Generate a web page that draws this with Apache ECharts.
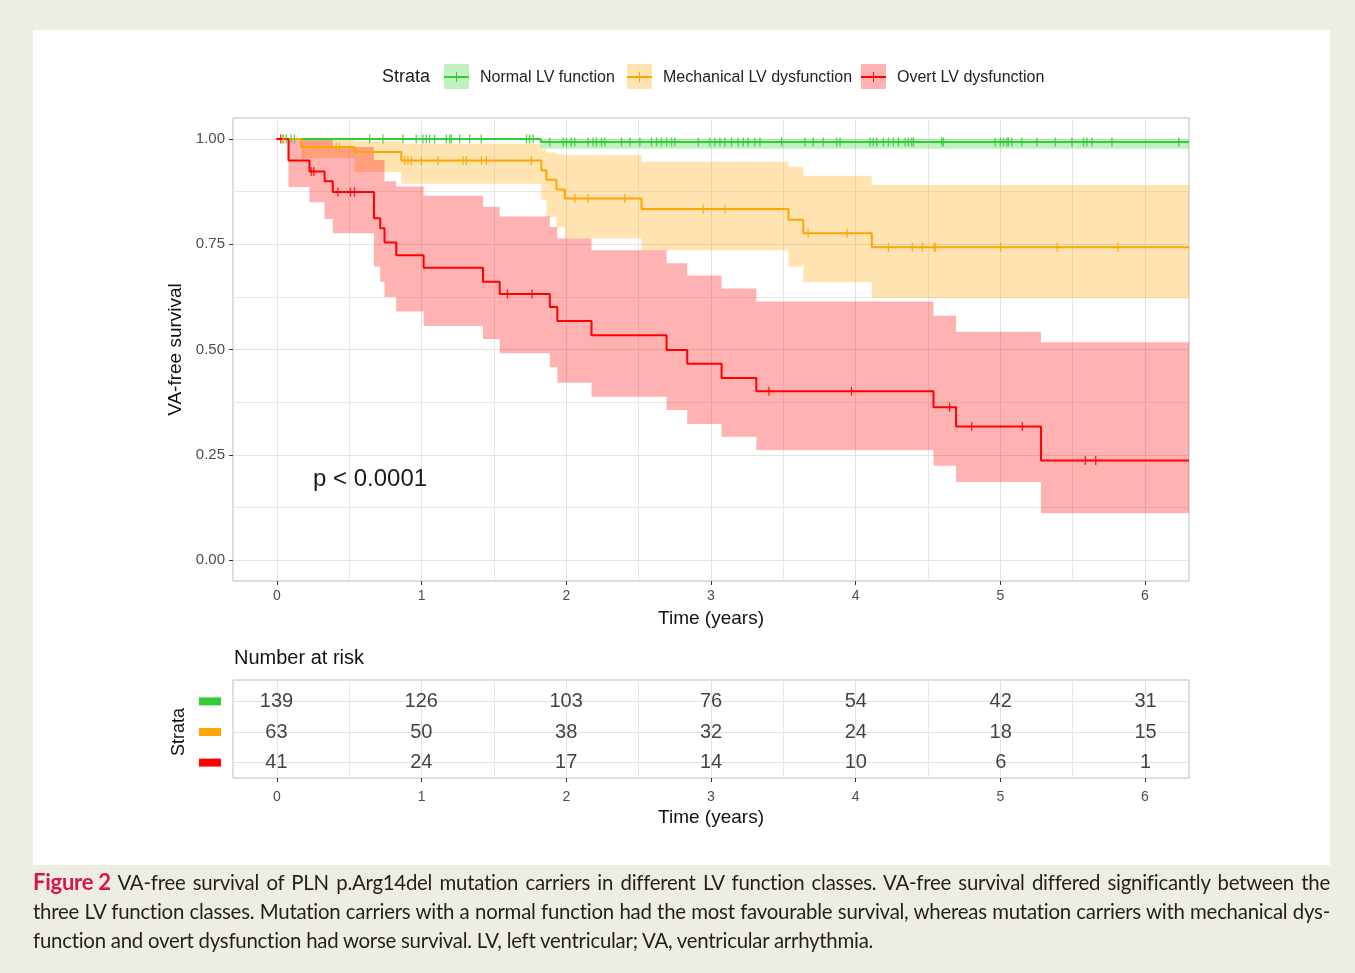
<!DOCTYPE html>
<html><head><meta charset="utf-8">
<script src="https://cdn.jsdelivr.net/npm/echarts@6/dist/echarts.min.js"></script>
<style>
html,body{margin:0;padding:0;background:#EEEDE3;width:1355px;height:973px;overflow:hidden;}
#panel{position:absolute;left:33px;top:30px;width:1297px;height:835px;background:#fff;}
#chart{position:absolute;left:0;top:0;width:1355px;height:973px;}
#caption{position:absolute;left:33px;top:867px;width:1297px;font-family:Lato,"Open Sans",sans-serif;font-size:20.4px;color:#231f20;line-height:29px;letter-spacing:-0.25px;}
#caption div{white-space:nowrap;text-align:justify;text-align-last:justify;}
#caption div.last{text-align-last:left;}
#caption .fig{display:inline-block;color:#D5174F;font-size:22px;font-weight:bold;}
</style></head>
<body>
<div id="panel"></div>
<div id="chart"></div>
<div id="caption">
<div><span class="fig">Figure 2</span> VA-free survival of PLN p.Arg14del mutation carriers in different LV function classes. VA-free survival differed significantly between the</div>
<div>three LV function classes. Mutation carriers with a normal function had the most favourable survival, whereas mutation carriers with mechanical dys-</div>
<div class="last">function and overt dysfunction had worse survival. LV, left ventricular; VA, ventricular arrhythmia.</div>
</div>
<script>
// ---------------- data ----------------
const strataNames = ['Normal LV function', 'Mechanical LV dysfunction', 'Overt LV dysfunction'];
const strataColors = ['#32CD32', '#FFA500', '#FF0000'];
const bandColors = ['rgba(50,205,50,0.3)', 'rgba(255,165,0,0.3)', 'rgba(255,0,0,0.3)'];
const timeTicks = [0, 1, 2, 3, 4, 5, 6];
const survTicks = [0, 0.25, 0.5, 0.75, 1];
const tEnd = 6.3;
const pText = 'p < 0.0001';

// Normal LV function
const normalTimes = [1.825];
const normalSurv  = [0.993];
const normalUpper = [1.000];
const normalLower = [0.977];
const normalCensor = [0.044,0.067,0.101,0.124,0.643,0.735,0.873,0.965,1.011,1.034,1.057,1.092,1.173,1.196,1.207,1.265,1.334,1.414,1.726,1.748,1.772,1.887,1.979,2.002,2.036,2.059,2.152,2.186,2.209,2.244,2.267,2.382,2.440,2.509,2.589,2.624,2.658,2.693,2.728,2.750,2.912,2.992,3.027,3.062,3.096,3.142,3.188,3.223,3.257,3.303,3.338,3.488,3.649,3.706,3.775,3.868,3.891,4.098,4.121,4.144,4.190,4.225,4.259,4.294,4.340,4.363,4.386,4.398,4.593,4.605,4.962,4.997,5.020,5.043,5.054,5.077,5.146,5.250,5.377,5.492,5.572,5.595,5.630,5.768,6.229];

// Mechanical LV dysfunction
const mechTimes = [0.170, 0.539, 0.862, 1.829, 1.864, 1.933, 1.990, 2.520, 3.534, 3.637, 4.110];
const mechSurv  = [0.981, 0.969, 0.949, 0.926, 0.903, 0.880, 0.859, 0.834, 0.808, 0.776, 0.743];
const mechUpper = [1.000, 0.995, 0.988, 0.975, 0.968, 0.964, 0.962, 0.946, 0.934, 0.913, 0.891];
const mechLower = [0.955, 0.922, 0.894, 0.855, 0.815, 0.790, 0.764, 0.736, 0.697, 0.660, 0.622];
const mechCensor = [0.05,0.413,0.435,0.885,0.908,0.931,1.0,1.115,1.288,1.311,1.415,1.449,1.760,2.06,2.15,2.405,2.946,3.096,3.67,3.94,4.225,4.39,4.46,4.54,4.55,5.0,5.39,5.81];

// Overt LV dysfunction
const overtTimes = [0.083,0.228,0.332,0.389,0.673,0.716,0.746,0.827,1.016,1.426,1.541,1.887,1.939,2.175,2.693,2.836,3.073,3.313,4.536,4.692,5.278];
const overtSurv  = [0.949,0.923,0.900,0.874,0.812,0.788,0.754,0.724,0.694,0.661,0.632,0.601,0.568,0.534,0.499,0.466,0.432,0.401,0.363,0.317,0.236];
const overtUpper = [1.000,1.000,1.000,0.981,0.950,0.950,0.900,0.887,0.865,0.839,0.816,0.791,0.764,0.736,0.705,0.676,0.645,0.614,0.580,0.542,0.517];
const overtLower = [0.886,0.850,0.810,0.776,0.697,0.661,0.625,0.590,0.556,0.525,0.491,0.458,0.421,0.388,0.356,0.323,0.293,0.261,0.224,0.185,0.111];
const overtCensor = [0.03,0.24,0.258,0.424,0.511,0.539,1.594,1.765,3.40,3.97,4.648,4.80,5.15,5.584,5.656];

// Number at risk
const riskNormal = [139, 126, 103, 76, 54, 42, 31];
const riskMech   = [63, 50, 38, 32, 24, 18, 15];
const riskOvert  = [41, 24, 17, 14, 10, 6, 1];

// ---------------- helpers ----------------
const groups = [
  {times: normalTimes, surv: normalSurv, up: normalUpper, lo: normalLower, cens: normalCensor, risk: riskNormal},
  {times: mechTimes, surv: mechSurv, up: mechUpper, lo: mechLower, cens: mechCensor, risk: riskMech},
  {times: overtTimes, surv: overtSurv, up: overtUpper, lo: overtLower, cens: overtCensor, risk: riskOvert}
];
function stepPoints(g) {
  const pts = [[0, 1]];
  g.times.forEach((t, i) => pts.push([t, g.surv[i]]));
  pts.push([tEnd, g.surv[g.surv.length - 1]]);
  return pts;
}
function survAt(g, t) {
  let v = 1;
  for (let i = 0; i < g.times.length; i++) if (g.times[i] <= t) v = g.surv[i];
  return v;
}
function bandData(g) {
  const rows = [[0, g.times[0], 1, 1]];
  g.times.forEach((t, i) => rows.push([t, i + 1 < g.times.length ? g.times[i + 1] : tEnd, g.lo[i], g.up[i]]));
  return rows;
}
function bandRender(color) {
  return function (params, api) {
    if (params.dataIndexInside !== 0) return null;
    const n = params.dataInsideLength;
    const up = [], lo = [];
    for (let i = 0; i < n; i++) {
      const t0 = api.value(0, i), t1 = api.value(1, i), l = api.value(2, i), u = api.value(3, i);
      up.push(api.coord([t0, u]), api.coord([t1, u]));
      lo.push(api.coord([t0, l]), api.coord([t1, l]));
    }
    return {type: 'polygon', shape: {points: up.concat(lo.reverse())}, style: {fill: color}};
  };
}

const FONT = '"Liberation Sans", Arial, sans-serif';
const gridColor = '#E2E2E2';
const minorColor = '#E8E8E8';
const borderColor = '#BDBDBD';
const tickLabel = {fontFamily: FONT, fontSize: 14, color: '#4D4D4D'};
const noLine = {show: false, onZero: false};

const series = [];
groups.forEach((g, k) => {
  series.push({type: 'custom', xAxisIndex: 0, yAxisIndex: 0, renderItem: bandRender(bandColors[k]),
    data: bandData(g), encode: {x: [0, 1], y: [2, 3]}, z: 1, silent: true, clip: true});
});
groups.forEach((g, k) => {
  series.push({type: 'line', name: strataNames[k], xAxisIndex: 0, yAxisIndex: 0, step: 'end', data: stepPoints(g),
    showSymbol: false, symbol: 'none', lineStyle: {color: strataColors[k], width: 2}, z: 3, silent: true});
});
groups.forEach((g, k) => {
  series.push({type: 'scatter', xAxisIndex: 0, yAxisIndex: 0, data: g.cens.map(t => [t, survAt(g, t)]),
    symbol: 'rect', symbolSize: [1.3, 9], itemStyle: {color: strataColors[k], opacity: 0.85}, z: 4, silent: true});
});
// risk table numbers: rows 3 (top) .. 1 (bottom)
groups.forEach((g, k) => {
  series.push({type: 'scatter', xAxisIndex: 3, yAxisIndex: 3, symbolSize: 0, silent: true, z: 5,
    data: g.risk.map((n, i) => [timeTicks[i], 3 - k, n]),
    label: {show: true, position: 'inside', formatter: p => String(p.value[2]), fontFamily: FONT, fontSize: 20, color: '#111'}});
});

const legendKeyX = [444, 627, 861];
const legendGraphics = [{type: 'text', left: 382, top: 68, style: {text: 'Strata', font: '18px ' + FONT, fill: '#1a1a1a'}}];
strataNames.forEach((s, k) => {
  const x = legendKeyX[k];
  legendGraphics.push(
    {type: 'rect', shape: {x: x, y: 64, width: 25, height: 25}, style: {fill: bandColors[k]}},
    {type: 'line', shape: {x1: x, y1: 77, x2: x + 25, y2: 77}, style: {stroke: strataColors[k], lineWidth: 2}},
    {type: 'line', shape: {x1: x + 12.5, y1: 72, x2: x + 12.5, y2: 82}, style: {stroke: strataColors[k], lineWidth: 1}},
    {type: 'text', x: x + 36, y: 78, style: {text: s, font: '16px ' + FONT, fill: '#222', verticalAlign: 'middle'}}
  );
});

const option = {
  animation: false,
  backgroundColor: 'transparent',
  grid: [
    {left: 233, top: 118, width: 956, height: 463, show: true, borderColor: borderColor, borderWidth: 1, backgroundColor: '#fff', outerBoundsMode: 'none'},
    {left: 277, top: 118, width: 868, height: 463, outerBoundsMode: 'none'},
    {left: 233, top: 139, width: 956, height: 421, outerBoundsMode: 'none'},
    {left: 233, top: 680, width: 956, height: 98, show: true, borderColor: borderColor, borderWidth: 1, backgroundColor: '#fff', outerBoundsMode: 'none'},
    {left: 277, top: 680, width: 868, height: 98, outerBoundsMode: 'none'},
    {left: 233, top: 701.4, width: 956, height: 61.2, outerBoundsMode: 'none'}
  ],
  xAxis: [
    {gridIndex: 0, type: 'value', min: -0.3, max: tEnd, show: false},
    {gridIndex: 1, type: 'value', min: 0, max: 6, interval: 1,
      axisLine: noLine, axisTick: {show: true, length: 4, lineStyle: {color: '#333'}},
      axisLabel: Object.assign({margin: 8}, tickLabel),
      splitLine: {show: true, lineStyle: {color: gridColor}},
      minorTick: {show: false, splitNumber: 2}, minorSplitLine: {show: true, lineStyle: {color: minorColor}},
      name: 'Time (years)', nameLocation: 'middle', nameGap: 28, nameTextStyle: {fontFamily: FONT, fontSize: 19, color: '#111'}},
    {gridIndex: 2, type: 'value', min: -0.3, max: tEnd, show: false},
    {gridIndex: 3, type: 'value', min: -0.3, max: tEnd, show: false},
    {gridIndex: 4, type: 'value', min: 0, max: 6, interval: 1,
      axisLine: noLine, axisTick: {show: true, length: 4, lineStyle: {color: '#333'}},
      axisLabel: Object.assign({margin: 12}, tickLabel),
      splitLine: {show: true, lineStyle: {color: gridColor}},
      minorTick: {show: false, splitNumber: 2}, minorSplitLine: {show: true, lineStyle: {color: minorColor}},
      name: 'Time (years)', nameLocation: 'middle', nameGap: 30, nameTextStyle: {fontFamily: FONT, fontSize: 19, color: '#111'}},
    {gridIndex: 5, type: 'value', min: -0.3, max: tEnd, show: false}
  ],
  yAxis: [
    {gridIndex: 0, type: 'value', min: -0.05, max: 1.05, show: false},
    {gridIndex: 1, type: 'value', min: 0, max: 1, show: false},
    {gridIndex: 2, type: 'value', min: 0, max: 1, interval: 0.25,
      axisLine: noLine, axisTick: {show: true, length: 4, lineStyle: {color: '#333'}},
      axisLabel: Object.assign({}, tickLabel, {margin: 8, fontSize: 15, formatter: v => v.toFixed(2)}),
      splitLine: {show: true, lineStyle: {color: gridColor}},
      minorTick: {show: false, splitNumber: 2}, minorSplitLine: {show: true, lineStyle: {color: minorColor}},
      name: 'VA-free survival', nameLocation: 'middle', nameGap: 44, nameRotate: 90,
      nameTextStyle: {fontFamily: FONT, fontSize: 19, color: '#111'}},
    {gridIndex: 3, type: 'value', min: 0.5, max: 3.7, show: false},
    {gridIndex: 4, type: 'value', min: 0, max: 1, show: false},
    {gridIndex: 5, type: 'value', min: 1, max: 3, interval: 1,
      axisLine: noLine, axisTick: {show: false},
      axisLabel: {margin: 12, formatter: v => ({3: '{a| }', 2: '{b| }', 1: '{c| }'})[v] || '',
        rich: {a: {backgroundColor: strataColors[0], width: 22, height: 8, fontSize: 1},
               b: {backgroundColor: strataColors[1], width: 22, height: 8, fontSize: 1},
               c: {backgroundColor: strataColors[2], width: 22, height: 8, fontSize: 1}}},
      splitLine: {show: true, lineStyle: {color: gridColor}},
      name: 'Strata', nameLocation: 'middle', nameGap: 44, nameRotate: 90,
      nameTextStyle: {fontFamily: FONT, fontSize: 18, color: '#111'}}
  ],
  graphic: legendGraphics.concat([
    {type: 'text', left: 313, top: 467, style: {text: pText, font: '24px ' + FONT, fill: '#1a1a1a'}, z: 10},
    {type: 'text', left: 234, top: 648, style: {text: 'Number at risk', font: '20px ' + FONT, fill: '#111'}}
  ]),
  series: series
};
const chart = echarts.init(document.getElementById('chart'), null, {renderer: 'canvas'});
chart.setOption(option);
</script>
</body></html>
